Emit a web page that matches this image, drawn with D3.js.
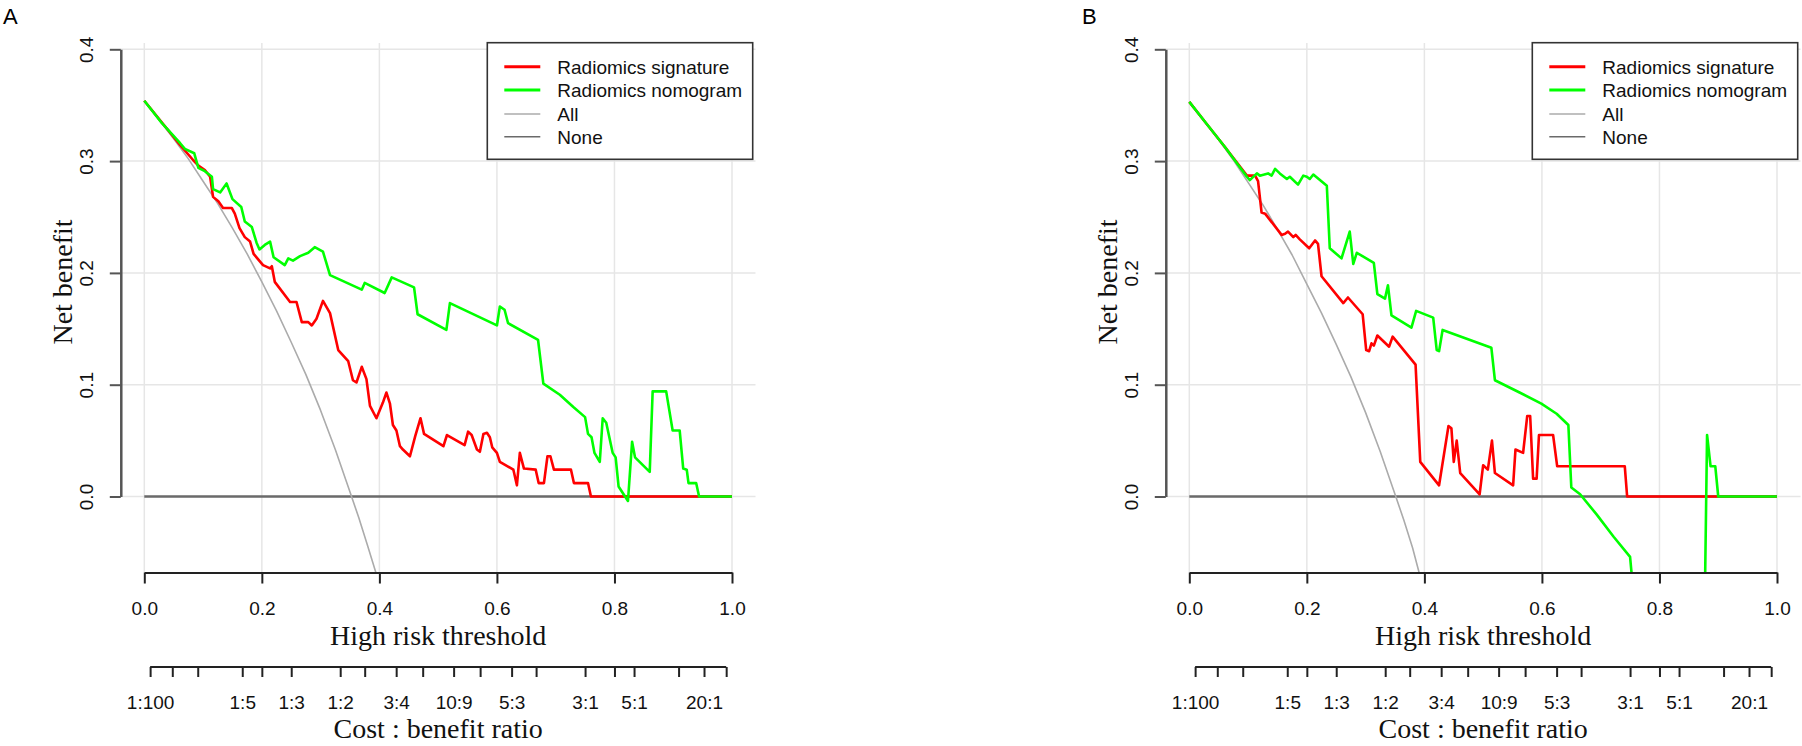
<!DOCTYPE html>
<html>
<head>
<meta charset="utf-8">
<script src="https://cdn.jsdelivr.net/npm/d3@7"></script>
<style>
  body { margin: 0; background: #fff; }
  svg { display: block; }
  .lab { font-family: "Liberation Sans", Arial, Helvetica, sans-serif; font-size: 19px; fill: #111; }
  .ttl { font-family: "Liberation Serif", "Times New Roman", serif; font-size: 28px; fill: #111; }
  .panel-id { font-family: "Liberation Sans", Arial, sans-serif; font-size: 22px; fill: #000; }
</style>
</head>
<body>
<svg width="1802" height="746"></svg>
<script>
// --- data ---

// panel A
const thrSigA = [0, .02, .04, .06, .083, .092, .103, .112, .117, .126, .134, .149, .154, .162, .171, .180, .186, .202, .214, .217, .222, .248, .259, .268, .279, .285, .293, .304, .316, .330, .347, .355, .361, .370, .378, .384, .395, .406, .412, .418, .423, .429, .435, .440, .452, .461, .470, .476, .509, .515, .545, .551, .557, .566, .571, .577, .583, .588, .592, .600, .605, .628, .634, .639, .646, .666, .671, .680, .686, .691, .697, .726, .731, .755, .760, 1];
const nbSigA  = [.354, .341, .328, .315, .301, .296, .292, .286, .268, .264, .258, .258, .253, .240, .232, .228, .217, .207, .204, .206, .192, .174, .174, .156, .156, .153, .159, .175, .164, .131, .121, .104, .102, .116, .105, .081, .070, .084, .093, .083, .064, .059, .045, .042, .036, .054, .070, .056, .045, .055, .046, .058, .055, .042, .040, .056, .057, .053, .044, .039, .031, .024, .010, .039, .025, .024, .012, .012, .036, .036, .024, .024, .012, .012, 0, 0];

const thrNomA = [0, .03, .061, .069, .085, .092, .103, .115, .117, .129, .140, .150, .165, .171, .183, .191, .196, .205, .214, .220, .239, .245, .253, .265, .279, .290, .304, .316, .370, .375, .409, .421, .459, .465, .514, .520, .600, .605, .613, .619, .670, .679, .707, .730, .750, .755, .761, .766, .775, .780, .786, .797, .802, .807, .823, .830, .835, .860, .865, .888, .899, .911, .917, .923, .926, .939, .944, 1];
const nbNomA  = [.354, .334, .316, .311, .307, .294, .291, .286, .275, .272, .280, .266, .259, .246, .241, .227, .221, .225, .228, .214, .207, .213, .211, .215, .218, .223, .219, .198, .185, .191, .182, .196, .187, .163, .149, .173, .153, .170, .167, .155, .140, .101, .091, .080, .071, .056, .053, .039, .031, .070, .066, .039, .035, .009, -.004, .049, .035, .022, .094, .094, .059, .059, .025, .024, .012, .012, 0, 0];

const thrAllA = [0, .025, .05, .075, .1, .125, .15, .175, .2, .225, .25, .275, .3, .325, .35, .365, .38, .394];
const nbAllA  = [.354, .337, .320, .302, .282, .262, .240, .217, .192, .166, .138, .109, .077, .042, .004, -.019, -.044, -.068];

// panel B
const thrSigB = [0, .03, .06, .098, .112, .117, .123, .129, .157, .163, .168, .177, .181, .188, .204, .214, .219, .225, .262, .270, .295, .301, .306, .310, .314, .320, .340, .346, .385, .393, .425, .441, .446, .450, .455, .461, .494, .500, .508, .515, .520, .551, .555, .568, .575, .580, .585, .591, .595, .619, .626, .741, .745, 1];
const nbSigB  = [.353, .333, .313, .287, .287, .282, .254, .253, .234, .235, .237, .232, .234, .230, .222, .229, .226, .197, .173, .178, .163, .131, .130, .137, .135, .144, .134, .143, .118, .031, .010, .063, .061, .031, .050, .021, .002, .028, .024, .050, .021, .010, .042, .039, .072, .072, .016, .016, .055, .055, .027, .027, 0, 0];

const thrNomB = [0, .03, .06, .098, .103, .115, .120, .134, .140, .146, .154, .166, .171, .185, .194, .200, .205, .211, .234, .239, .259, .273, .279, .285, .314, .320, .333, .338, .344, .378, .386, .415, .421, .425, .431, .514, .520, .562, .599, .625, .645, .650, .665, .693, .722, .750, .758, .877, .881, .887, .895, .900, 1];
const nbNomB  = [.353, .333, .313, .286, .283, .289, .287, .289, .287, .293, .289, .284, .286, .279, .287, .286, .284, .288, .278, .222, .213, .237, .208, .218, .209, .181, .177, .189, .162, .151, .166, .160, .131, .130, .149, .133, .104, .093, .083, .074, .064, .008, .002, -.016, -.036, -.054, -.1, -.1, .055, .027, .027, 0, 0];

const thrAllB = [0, .025, .05, .075, .1, .125, .15, .175, .2, .225, .25, .275, .3, .325, .35, .365, .38, .391];
const nbAllB  = [.353, .336, .319, .301, .281, .261, .239, .216, .190, .164, .136, .107, .075, .040, .002, -.021, -.046, -.068];

// axes
const xTicks = [0, .2, .4, .6, .8, 1];
const yTicks = [0, .1, .2, .3, .4];
const costTicks = ["1:100", "1:20", "1:10", "1:5", "1:4", "1:3", "1:2", "3:5", "3:4", "9:10", "10:9", "4:3", "5:3", "2:1", "3:1", "4:1", "5:1", "10:1", "20:1", "100:1"];
const costShown = ["1:100", "1:5", "1:3", "1:2", "3:4", "10:9", "5:3", "3:1", "5:1", "20:1"];

const legendNames = ["Radiomics signature", "Radiomics nomogram", "All", "None"];
const panelIds = ["A", "B"];

// --- drawing ---
const svg = d3.select("svg");

const styles = {
  sig:  { color: "#ff0000", width: 2.6 },
  nom:  { color: "#00ff00", width: 2.6 },
  all:  { color: "#ababab", width: 1.6 },
  none: { color: "#6a6a6a", width: 2.6 }
};

const x = d3.scaleLinear().domain([0, 1]).range([144.3, 732]);
const y = d3.scaleLinear().domain([0, 0.4]).range([496.5, 49.3]);
const xr = [x(-0.04), x(1.04)];
const yr = [y(0.418), y(-0.068)];

function ratioToThr(r) {
  const [c, b] = r.split(":").map(Number);
  return c / (c + b);
}

function drawPanel(id, dx, idX, series) {
  const g = svg.append("g").attr("transform", `translate(${dx},0)`);

  svg.append("text").attr("class", "panel-id")
    .attr("x", idX).attr("y", 24)
    .text(id);

  // grid
  g.selectAll("line.vg").data(xTicks).enter().append("line")
    .attr("x1", d => x(d)).attr("x2", d => x(d))
    .attr("y1", 43).attr("y2", yr[1])
    .attr("stroke", "#e6e6e6").attr("stroke-width", 1.5);
  g.selectAll("line.hg").data(yTicks).enter().append("line")
    .attr("x1", xr[0]).attr("x2", xr[1])
    .attr("y1", d => y(d)).attr("y2", d => y(d))
    .attr("stroke", "#e6e6e6").attr("stroke-width", 1.5);

  const clipId = "clip" + id;
  g.append("clipPath").attr("id", clipId).append("rect")
    .attr("x", xr[0]).attr("y", yr[0])
    .attr("width", xr[1] - xr[0]).attr("height", yr[1] - yr[0]);

  const line = d3.line().x(d => x(d[0])).y(d => y(d[1]));
  const plot = g.append("g").attr("clip-path", `url(#${clipId})`);

  // None
  plot.append("path")
    .attr("d", line([[0, 0], [1, 0]]))
    .attr("fill", "none").attr("stroke", styles.none.color).attr("stroke-width", styles.none.width);

  series.forEach(s => {
    const pts = s.t.map((t, i) => [t, s.v[i]]);
    plot.append("path")
      .attr("d", line(pts))
      .attr("fill", "none")
      .attr("stroke", styles[s.key].color)
      .attr("stroke-width", styles[s.key].width)
      .attr("stroke-linejoin", "round");
  });

  // x axis
  const xa = g.append("g").attr("transform", `translate(0,${yr[1]})`)
    .call(d3.axisBottom(x).tickValues(xTicks).tickSize(11).tickSizeOuter(0).tickPadding(18).tickFormat(d3.format(".1f")));
  xa.select(".domain").attr("stroke", "#222").attr("stroke-width", 2);
  xa.selectAll(".tick line").attr("stroke", "#222").attr("stroke-width", 2);
  xa.selectAll("text").attr("class", "lab").attr("font-family", null).attr("font-size", null).attr("fill", null);

  // y axis
  const ya = g.append("g").attr("transform", `translate(${xr[0]},0)`)
    .call(d3.axisLeft(y).tickValues(yTicks).tickSize(11).tickSizeOuter(0).tickFormat(d3.format(".1f")));
  ya.select(".domain").attr("stroke", "#555").attr("stroke-width", 2.5);
  ya.selectAll(".tick line").attr("stroke", "#555").attr("stroke-width", 2);
  ya.selectAll("text").attr("class", "lab").attr("font-family", null).attr("font-size", null).attr("fill", null)
    .attr("x", 0).attr("y", 0).attr("dy", 0)
    .attr("text-anchor", "middle")
    .attr("transform", "translate(-28,0) rotate(-90)");

  g.append("text").attr("class", "ttl")
    .attr("x", x(0.5)).attr("y", 645).attr("text-anchor", "middle")
    .text("High risk threshold");
  g.append("text").attr("class", "ttl")
    .attr("text-anchor", "middle")
    .attr("transform", "translate(72,282) rotate(-90)")
    .text("Net benefit");

  // cost : benefit axis
  const costVals = costTicks.map(ratioToThr);
  const ca = g.append("g").attr("transform", "translate(0,667)")
    .call(d3.axisBottom(x).tickValues(costVals).tickSize(10).tickPadding(19)
      .tickFormat((d, i) => costShown.includes(costTicks[i]) ? costTicks[i] : ""));
  ca.select(".domain").remove();
  ca.append("line")
    .attr("x1", x(costVals[0])).attr("x2", x(costVals[costVals.length - 1]))
    .attr("stroke", "#222").attr("stroke-width", 2);
  ca.selectAll(".tick line").attr("stroke", "#222").attr("stroke-width", 2);
  ca.selectAll("text").attr("class", "lab").attr("font-family", null).attr("font-size", null).attr("fill", null);

  g.append("text").attr("class", "ttl")
    .attr("x", x(0.5)).attr("y", 738).attr("text-anchor", "middle")
    .text("Cost : benefit ratio");

  // legend
  const lg = g.append("g").attr("transform", "translate(487.3,42.7)");
  lg.append("rect").attr("width", 265.4).attr("height", 116.6)
    .attr("fill", "#fff").attr("stroke", "#333").attr("stroke-width", 1.6);
  const keys = ["sig", "nom", "all", "none"];
  const rowY = [24, 47.3, 71.3, 94];
  legendNames.forEach((name, i) => {
    lg.append("line")
      .attr("x1", 17).attr("x2", 53).attr("y1", rowY[i]).attr("y2", rowY[i])
      .attr("stroke", styles[keys[i]].color)
      .attr("stroke-width", i < 2 ? 3 : 1.6);
    lg.append("text").attr("class", "lab")
      .attr("x", 70).attr("y", rowY[i] + 7)
      .text(name);
  });
}

drawPanel(panelIds[0], 0, 3, [
  { key: "all", t: thrAllA, v: nbAllA },
  { key: "sig", t: thrSigA, v: nbSigA },
  { key: "nom", t: thrNomA, v: nbNomA }
]);
drawPanel(panelIds[1], 1045, 1082, [
  { key: "all", t: thrAllB, v: nbAllB },
  { key: "sig", t: thrSigB, v: nbSigB },
  { key: "nom", t: thrNomB, v: nbNomB }
]);
</script>
</body>
</html>
